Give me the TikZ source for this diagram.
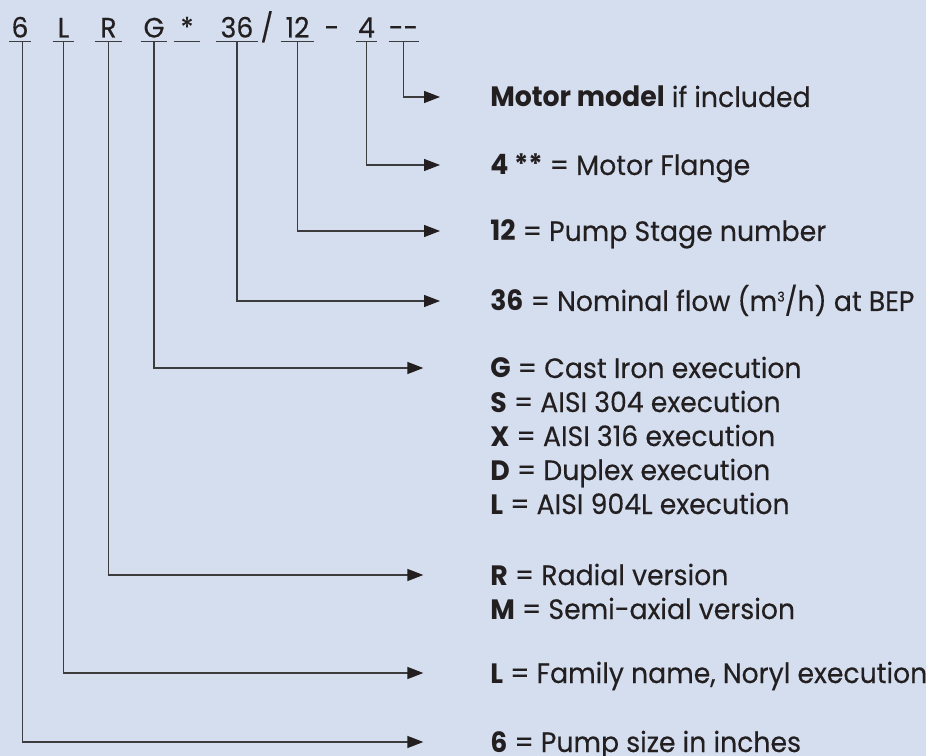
\documentclass[tikz,border=0pt]{standalone}
\usepackage{fontspec}
\setmainfont{Poppins}[FakeStretch=0.955, UprightFeatures={FakeBold=0.3}]
\usetikzlibrary{arrows.meta}
\definecolor{bg}{HTML}{D4DEEF}
\definecolor{ink}{HTML}{231F20}
\definecolor{wire}{HTML}{3C3C3E}
\newcommand{\supthree}{\raisebox{0.62ex}{\fontsize{10}{10}\selectfont 3}}
\begin{document}
\begin{tikzpicture}[x=0.75pt,y=-0.75pt,
  txt/.style={font=\fontsize{21}{25}\selectfont, text=ink, inner sep=0pt},
  codech/.style={txt, text height=15pt, text depth=3pt, anchor=base},
  lbl/.style={txt, text height=15pt, text depth=0pt, anchor=west},
  uline/.style={draw=wire, line width=1pt},
  conn/.style={draw=wire, line width=1pt, -{Triangle[length=12pt,width=9pt,color=ink]}},
  upper/.style={conn, shorten >=37.5pt},
  lower/.style={conn, shorten >=50pt},
  ]
\fill[bg] (0,0) rectangle (926,756);
\useasboundingbox (0,0) rectangle (926,756);

% code line
\node[codech, minimum width=15.75pt] (n6)  at (20,37.5)   {6};
\node[codech, minimum width=15.75pt] (nL)  at (63.5,37.5) {L};
\node[codech, minimum width=20.25pt] (nR)  at (108.5,37.5) {R};
\node[codech, minimum width=19.5pt]  (nG)  at (154,37.5)  {G};
\node[codech, minimum width=19.5pt]  (nS)  at (187,37.5)  {*};
\node[codech, minimum width=31.5pt]  (n36) at (237,37.5)  {36};
\node[codech]                        (sl)  at (267,37.5)  {/};
\node[codech, minimum width=24.75pt] (n12) at (297.5,37.5) {12};
\node[codech]                        (dh)  at (332,37.5)  {-};
\node[codech, minimum width=15.75pt] (n4)  at (366.5,37.5) {4};
\node[codech, minimum width=18.75pt] (nM)  at (403.5,37.5) {{-}{-}};

\foreach \n in {n6,nL,nR,nG,nS,n36,n12,n4,nM}
  \draw[uline] (\n.south west) -- (\n.south east);

% labels
\node[lbl] (tM)  at (490,97)  {\textbf{Motor model} if included};
\node[lbl] (t4)  at (490,165) {\textbf{4 **} = Motor Flange};
\node[lbl] (t12) at (490,231) {\textbf{12} = Pump Stage number};
\node[lbl] (t36) at (490,301) {\textbf{36} = Nominal flow (m\supthree/h) at BEP};
\node[lbl] (tG)  at (490,368) {\textbf{G} = Cast Iron execution};
\node[lbl] (tS)  at (490,402) {\textbf{S} = AISI 304 execution};
\node[lbl] (tX)  at (490,436) {\textbf{X} = AISI 316 execution};
\node[lbl] (tD)  at (490,470) {\textbf{D} = Duplex execution};
\node[lbl] (tL2) at (490,504) {\textbf{L} = AISI 904L execution};
\node[lbl] (tR)  at (490,575) {\textbf{R} = Radial version};
\node[lbl] (tMs) at (490,609) {\textbf{M} = Semi-axial version};
\node[lbl] (tL)  at (490,673) {\textbf{L} = Family name, Noryl execution};
\node[lbl] (t6)  at (490,742) {\textbf{6} = Pump size in inches};

% connectors
\draw[upper] (nM.south)  |- (tM.west);
\draw[upper] (n4.south)  |- (t4.west);
\draw[upper] (n12.south) |- (t12.west);
\draw[upper] (n36.south) |- (t36.west);
\draw[lower] (nG.south)  |- (tG.west);
\draw[lower] (nR.south)  |- (tR.west);
\draw[lower] (nL.south)  |- (tL.west);
\draw[lower] ([xshift=2pt]n6.south) |- (t6.west);
\end{tikzpicture}
\end{document}
